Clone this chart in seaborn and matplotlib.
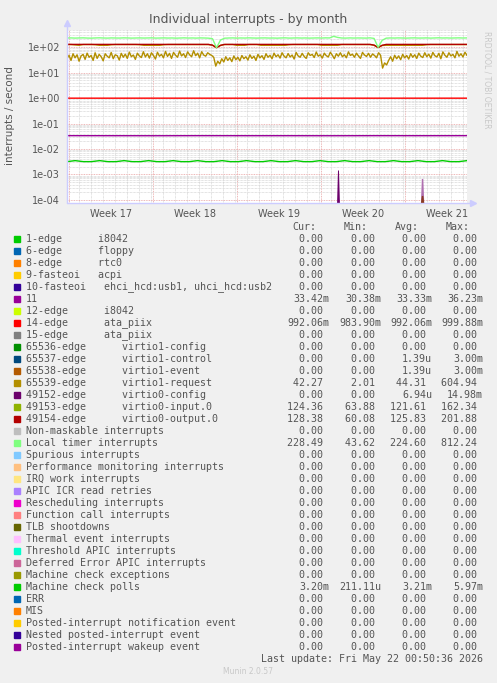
import numpy as np
import matplotlib
matplotlib.use("Agg")
import matplotlib.pyplot as plt
import seaborn as sns
from matplotlib.patches import Rectangle

week_labels = ["Week 17", "Week 18", "Week 19", "Week 20", "Week 21"]
week_starts = [0.17, 7.17, 14.17, 21.17, 28.17]   # days from left edge of graph
span_days = 33.3

virtio1_request = [
    35, 48, 30, 55, 38, 50, 28, 45, 52, 33, 58, 40, 47, 30, 60, 36, 52, 42, 29, 55,
    44, 38, 62, 35, 50, 46, 31, 57, 40, 53, 36, 64, 42, 49, 33, 58, 45, 39, 66, 41,
    55, 37, 60, 47, 34, 63, 44, 52, 38, 68, 43, 57, 36, 62, 48, 40, 70, 45, 55, 39,
    65, 50, 42, 72, 46, 58, 38, 66, 49, 44, 60, 52, 47, 40,
    18, 28, 22,
    35, 26, 42, 30, 38, 27, 45, 32, 40, 29, 47, 35, 42, 31, 50, 36, 44, 30, 52, 38,
    46, 33, 55, 40, 48, 35, 58, 42, 50, 37, 60, 44, 38, 56, 41, 49, 34, 62, 45, 40,
    57, 43, 36, 60, 47, 52, 39, 64, 44, 50, 37, 58, 46, 41, 63, 48, 35, 55, 44, 60,
    42, 50, 38, 65, 47, 53, 40, 58, 45, 36, 62, 49, 43, 57, 40, 54, 47, 38, 60, 48,
    15, 24, 20,
    30, 42, 28, 48, 35, 45, 32, 52, 38, 47, 34, 55, 40, 50, 36, 58, 44, 39, 60, 42,
    53, 37, 62, 46, 41, 57, 35, 65, 48, 40, 60, 45, 52, 38, 68, 44, 55, 41, 63, 47,
]

local_timer = [
    228, 230, 226, 229, 231, 227, 225, 229, 232, 228, 226, 230, 228, 227, 231, 229, 226, 228, 230, 227,
    229, 231, 226, 228, 230, 227, 229, 225, 228, 231, 227, 229, 226, 230, 228, 225, 215, 95, 190, 224,
    228, 230, 226, 229, 227, 231, 228, 226, 229, 230, 227, 228, 225, 229, 231, 226, 228, 230, 227, 229,
    226, 228, 230, 227, 231, 229, 265, 240, 228, 226, 230, 227, 229, 228, 226, 231, 220, 98, 185, 225,
    229, 227, 230, 228, 226, 229, 231, 227, 228, 230, 226, 229, 232, 228, 230, 227, 229, 231, 228, 230,
]

virtio0_output = [
    128, 128, 128, 128, 128, 128, 128, 128, 128, 128, 128, 128, 128, 128, 128, 128, 128, 128, 128, 128,
    128, 128, 128, 128, 128, 128, 128, 128, 128, 128, 128, 128, 128, 128, 128, 128, 120, 96, 118, 128,
    128, 128, 128, 128, 128, 128, 128, 128, 128, 128, 128, 128, 128, 128, 128, 128, 128, 128, 128, 128,
    128, 128, 128, 128, 128, 128, 128, 128, 128, 128, 128, 128, 128, 128, 128, 128, 120, 97, 118, 128,
    128, 128, 128, 128, 128, 128, 128, 128, 128, 128, 128, 128, 128, 128, 128, 128, 128, 128, 128, 128,
]

virtio0_input = [
    126, 126, 122, 118, 126, 126, 126, 124, 118, 118, 118, 124, 126, 126, 126, 126, 126, 126, 124, 118,
    118, 118, 118, 118, 124, 126, 126, 126, 126, 126, 126, 126, 126, 126, 126, 126, 118, 95, 116, 126,
    126, 126, 118, 118, 118, 126, 126, 126, 118, 118, 118, 118, 118, 118, 118, 124, 126, 126, 126, 126,
    126, 126, 126, 118, 118, 118, 118, 118, 126, 126, 126, 126, 126, 126, 126, 126, 118, 96, 116, 118,
    118, 118, 118, 118, 118, 118, 118, 118, 118, 124, 126, 126, 126, 126, 126, 126, 126, 126, 126, 126,
]

ata_piix_14 = [0.992, 0.991, 0.993, 0.992, 0.990, 0.992, 0.993, 0.991, 0.992, 0.992]
irq_11 = [0.0334, 0.0333, 0.0332, 0.0334, 0.0333, 0.0333, 0.0332, 0.0334, 0.0333, 0.0334]

mc_polls = [
    0.0032, 0.0035, 0.0032, 0.0032, 0.0035, 0.0032, 0.0032, 0.0035, 0.0032, 0.0032,
    0.0035, 0.0032, 0.0032, 0.0035, 0.0032, 0.0032, 0.0035, 0.0032, 0.0032, 0.0035,
    0.0032, 0.0032, 0.0035, 0.0032, 0.0032, 0.0035, 0.0032, 0.0032, 0.0035, 0.0032,
    0.0032, 0.0035, 0.0032, 0.0032, 0.0035, 0.0032, 0.0032, 0.0035, 0.0032, 0.0032,
    0.0035, 0.0032, 0.0032, 0.0035, 0.0032, 0.0032, 0.0035, 0.0032, 0.0032, 0.0035,
]

config_spike_days = [22.44, 22.52, 22.60, 22.68]
config_spike = [0, 0.0015, 0.0015, 0]
control_spike_days = [29.42, 29.50, 29.62, 29.70]
control_spike = [0, 0.0007, 0.0007, 0]
event_spike = [0, 0.00015, 0.00015, 0]

legend_names = [
    "1-edge      i8042", "6-edge      floppy", "8-edge      rtc0", "9-fasteoi   acpi",
    "10-fasteoi   ehci_hcd:usb1, uhci_hcd:usb2", "11", "12-edge      i8042",
    "14-edge      ata_piix", "15-edge      ata_piix", "65536-edge      virtio1-config",
    "65537-edge      virtio1-control", "65538-edge      virtio1-event",
    "65539-edge      virtio1-request", "49152-edge      virtio0-config",
    "49153-edge      virtio0-input.0", "49154-edge      virtio0-output.0",
    "Non-maskable interrupts", "Local timer interrupts", "Spurious interrupts",
    "Performance monitoring interrupts", "IRQ work interrupts", "APIC ICR read retries",
    "Rescheduling interrupts", "Function call interrupts", "TLB shootdowns",
    "Thermal event interrupts", "Threshold APIC interrupts", "Deferred Error APIC interrupts",
    "Machine check exceptions", "Machine check polls", "ERR", "MIS",
    "Posted-interrupt notification event", "Nested posted-interrupt event",
    "Posted-interrupt wakeup event",
]
legend_colors = [
    "#00CC00", "#0066B3", "#FF8000", "#FFCC00", "#330099", "#990099", "#CCFF00",
    "#FF0000", "#808080", "#008F00", "#00487D", "#B35A00", "#B38F00", "#6B006B",
    "#8FB300", "#B30000", "#BEBEBE", "#80FF80", "#80C9FF", "#FFC080", "#FFE680",
    "#AA80FF", "#EE00CC", "#FF8080", "#666600", "#FFBFFF", "#00FFCC", "#CC6699",
    "#999900", "#00CC00", "#0066B3", "#FF8000", "#FFCC00", "#330099", "#990099",
]
z = "0.00"
cur_vals = [z, z, z, z, z, "33.42m", z, "992.06m", z, z, z, z, "42.27", z, "124.36", "128.38",
            z, "228.49", z, z, z, z, z, z, z, z, z, z, z, "3.20m", z, z, z, z, z]
min_vals = [z, z, z, z, z, "30.38m", z, "983.90m", z, z, z, z, "2.01", z, "63.88", "60.08",
            z, "43.62", z, z, z, z, z, z, z, z, z, z, z, "211.11u", z, z, z, z, z]
avg_vals = [z, z, z, z, z, "33.33m", z, "992.06m", z, z, "1.39u", "1.39u", "44.31", "6.94u",
            "121.61", "125.83", z, "224.60", z, z, z, z, z, z, z, z, z, z, z, "3.21m", z, z, z, z, z]
max_vals = [z, z, z, z, z, "36.23m", z, "999.88m", z, z, "3.00m", "3.00m", "604.94", "14.98m",
            "162.34", "201.88", z, "812.24", z, z, z, z, z, z, z, z, z, z, z, "5.97m", z, z, z, z, z]

# ---- figure ----
sns.set_style("white")
plt.rcParams["font.family"] = ["DejaVu Sans"]
W, H = 497, 683
fig = plt.figure(figsize=(W / 100, H / 100), dpi=100, facecolor="#F0F0F0")
ax = fig.add_axes([67 / W, 1 - 203 / H, 400 / W, 173 / H], facecolor="white")

ymin, ymax = 7.6e-5, 470


def days(n):
    return np.linspace(0, span_days, n)


def floor(v):
    return np.clip(np.array(v, dtype=float), ymin, None)


sns.lineplot(x=days(len(mc_polls)), y=mc_polls, color="#00CC00", lw=1, ax=ax)
sns.lineplot(x=days(len(irq_11)), y=irq_11, color="#990099", lw=1, ax=ax)
sns.lineplot(x=days(len(ata_piix_14)), y=ata_piix_14, color="#FF0000", lw=1, ax=ax)
sns.lineplot(x=days(len(virtio1_request)), y=virtio1_request, color="#B38F00", lw=1, ax=ax)
sns.lineplot(x=days(len(virtio0_input)), y=virtio0_input, color="#B38F00", lw=1, ax=ax)
sns.lineplot(x=days(len(virtio0_output)), y=virtio0_output, color="#B30000", lw=1, ax=ax)
sns.lineplot(x=days(len(local_timer)), y=local_timer, color="#80FF80", lw=1, ax=ax)
ax.fill_between(config_spike_days, ymin, floor(config_spike), color="#6B006B", lw=0)
ax.fill_between(control_spike_days, ymin, floor(control_spike), color="#B070B0", lw=0)
ax.fill_between(control_spike_days, ymin, floor(event_spike), color="#8B3A20", lw=0)

ax.set_yscale("log")
ax.set_ylim(ymin, ymax)
ax.set_xlim(0, span_days)

# munin style grid
for s in ax.spines.values():
    s.set_visible(False)
for d in np.arange(1, span_days, 1.0):
    ax.axvline(d, color="#C8C8C8", lw=0.5, ls=(0, (1, 1)), zorder=0)
for d in week_starts:
    ax.axvline(d, color="#E8A0A0", lw=0.6, ls=(0, (1, 1)), zorder=0)
for e in range(-4, 3):
    for m in range(2, 10):
        ax.axhline(m * 10.0 ** e, color="#C8C8C8", lw=0.5, ls=(0, (1, 1)), zorder=0)
    ax.axhline(10.0 ** e, color="#E8A0A0", lw=0.6, ls=(0, (1, 1)), zorder=0)
ax.axhline(ymax * 0.999, color="#C8C8C8", lw=0.5, ls=(0, (1, 1)), zorder=0)

ax.set_yticks([10.0 ** e for e in range(-4, 3)])
ax.set_yticklabels(["1e-04", "1e-03", "1e-02", "1e-01", "1e+00", "1e+01", "1e+02"])
ax.minorticks_off()
ax.set_xticks(week_starts)
ax.set_xticklabels([])
ax.set_xticks([w + 3.5 for w in week_starts], labels=week_labels, minor=True)
ax.tick_params(axis="x", which="major", length=3, color="#E8A0A0", width=0.6)
ax.tick_params(axis="x", which="minor", length=0, labelsize=7, labelcolor="#555555", pad=4)
ax.tick_params(axis="y", length=2, color="#C8C8C8", labelsize=7, labelcolor="#555555", pad=3)

# axis lines with arrows
axis_col = "#CCCCFF"
ax.plot([0, 1.015], [0, 0], color=axis_col, lw=1, transform=ax.transAxes, clip_on=False)
ax.plot([0, 0], [0, 1.04], color=axis_col, lw=1, transform=ax.transAxes, clip_on=False)
ax.plot([1.015], [0], marker=">", ms=4, color=axis_col, transform=ax.transAxes, clip_on=False)
ax.plot([0], [1.04], marker="^", ms=4, color=axis_col, transform=ax.transAxes, clip_on=False)

fig.text(248 / W, 1 - 19 / H, "Individual interrupts - by month", ha="center", va="center",
         fontsize=9, color="#555555")
fig.text(10 / W, 1 - 116 / H, "interrupts / second", rotation=90, ha="center", va="center",
         fontsize=7.5, color="#555555")
fig.text(487 / W, 1 - 80 / H, "RRDTOOL / TOBI OETIKER", rotation=270, ha="center", va="center",
         fontsize=5.5, color="#C8C8C8")

# legend block
mono = "DejaVu Sans Mono"
fs = 7.2
hdr_y = 1 - 227 / H
for txt, xr in zip(["Cur:", "Min:", "Avg:", "Max:"], [316, 368, 419, 470]):
    fig.text(xr / W, hdr_y, txt, ha="right", va="center", family=mono, fontsize=fs, color="#555555")


def pad(v):
    return v if v[-1].isalpha() else v + " "


for i, (name, col) in enumerate(zip(legend_names, legend_colors)):
    yc = 239 + 12 * i
    fig.patches.append(Rectangle((14 / W, 1 - (yc + 3) / H), 6 / W, 6 / H, color=col,
                                 transform=fig.transFigure, figure=fig))
    fig.text(26 / W, 1 - yc / H, name, ha="left", va="center", family=mono, fontsize=fs,
             color="#555555")
    for vals, xr in zip([cur_vals, min_vals, avg_vals, max_vals], [329, 381, 432, 483]):
        fig.text(xr / W, 1 - yc / H, pad(vals[i]), ha="right", va="center", family=mono,
                 fontsize=fs, color="#555555")

fig.text(483 / W, 1 - 659.5 / H, "Last update: Fri May 22 00:50:36 2026", ha="right", va="center",
         family=mono, fontsize=fs, color="#555555")
fig.text(248 / W, 1 - 671 / H, "Munin 2.0.57", ha="center", va="center", fontsize=5.5,
         color="#C8C8C8")

fig.savefig("out.png", dpi=100, facecolor=fig.get_facecolor())
